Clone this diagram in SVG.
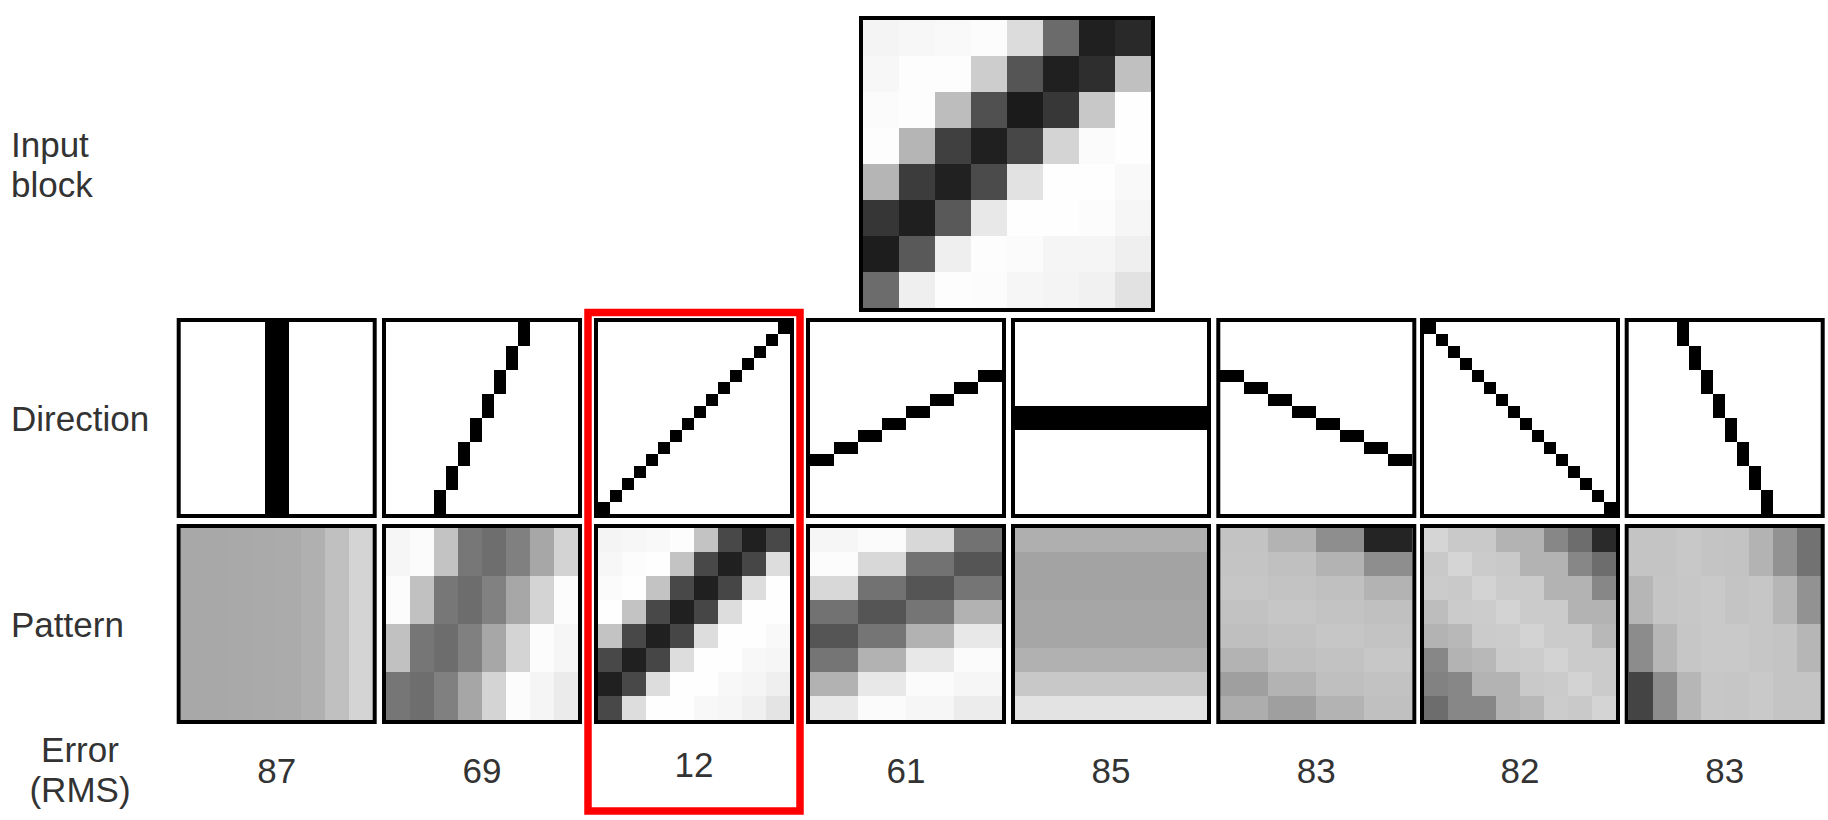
<svg xmlns="http://www.w3.org/2000/svg" width="1828" height="820" viewBox="0 0 1828 820">
<style>
.lbl{font-family:"Liberation Sans",Arial,sans-serif;font-size:35px;fill:#333}
.num{font-family:"Liberation Sans",Arial,sans-serif;font-size:35px;fill:#333;text-anchor:middle}
.frame{fill:none;stroke:#000;stroke-width:4}
.hl{fill:none;stroke:#f00;stroke-width:7.5}
.grid{shape-rendering:crispEdges}
.dir{fill:#000;shape-rendering:crispEdges}
</style>
<rect width="1828" height="820" fill="#fff"/>

<g id="labels">
<text class="lbl" x="11" y="157">Input</text>
<text class="lbl" x="11" y="197">block</text>
<text class="lbl" x="11" y="431">Direction</text>
<text class="lbl" x="11" y="637">Pattern</text>
<text class="num" x="80" y="762">Error</text>
<text class="num" x="80" y="802">(RMS)</text>
</g>

<g id="input-block">
<g class="grid" transform="translate(863,20)">
<rect x="0" y="0" width="36" height="36" fill="#f4f4f4"/><rect x="36" y="0" width="36" height="36" fill="#f7f7f7"/><rect x="72" y="0" width="36" height="36" fill="#f9f9f9"/><rect x="108" y="0" width="36" height="36" fill="#fcfcfc"/><rect x="144" y="0" width="36" height="36" fill="#dcdcdc"/><rect x="180" y="0" width="36" height="36" fill="#6b6b6b"/><rect x="216" y="0" width="36" height="36" fill="#202020"/><rect x="252" y="0" width="36" height="36" fill="#292929"/>
<rect x="0" y="36" width="36" height="36" fill="#f7f7f7"/><rect x="36" y="36" width="36" height="36" fill="#fdfdfd"/><rect x="72" y="36" width="36" height="36" fill="#fdfdfd"/><rect x="108" y="36" width="36" height="36" fill="#cdcdcd"/><rect x="144" y="36" width="36" height="36" fill="#555555"/><rect x="180" y="36" width="36" height="36" fill="#202020"/><rect x="216" y="36" width="36" height="36" fill="#2e2e2e"/><rect x="252" y="36" width="36" height="36" fill="#c0c0c0"/>
<rect x="0" y="72" width="36" height="36" fill="#fbfbfb"/><rect x="36" y="72" width="36" height="36" fill="#fdfdfd"/><rect x="72" y="72" width="36" height="36" fill="#bdbdbd"/><rect x="108" y="72" width="36" height="36" fill="#505050"/><rect x="144" y="72" width="36" height="36" fill="#1b1b1b"/><rect x="180" y="72" width="36" height="36" fill="#373737"/><rect x="216" y="72" width="36" height="36" fill="#c8c8c8"/><rect x="252" y="72" width="36" height="36" fill="#fefefe"/>
<rect x="0" y="108" width="36" height="36" fill="#fdfdfd"/><rect x="36" y="108" width="36" height="36" fill="#b5b5b5"/><rect x="72" y="108" width="36" height="36" fill="#404040"/><rect x="108" y="108" width="36" height="36" fill="#202020"/><rect x="144" y="108" width="36" height="36" fill="#474747"/><rect x="180" y="108" width="36" height="36" fill="#d4d4d4"/><rect x="216" y="108" width="36" height="36" fill="#fbfbfb"/><rect x="252" y="108" width="36" height="36" fill="#fefefe"/>
<rect x="0" y="144" width="36" height="36" fill="#b5b5b5"/><rect x="36" y="144" width="36" height="36" fill="#3c3c3c"/><rect x="72" y="144" width="36" height="36" fill="#212121"/><rect x="108" y="144" width="36" height="36" fill="#4b4b4b"/><rect x="144" y="144" width="36" height="36" fill="#e2e2e2"/><rect x="180" y="144" width="36" height="36" fill="#fefefe"/><rect x="216" y="144" width="36" height="36" fill="#fefefe"/><rect x="252" y="144" width="36" height="36" fill="#f9f9f9"/>
<rect x="0" y="180" width="36" height="36" fill="#363636"/><rect x="36" y="180" width="36" height="36" fill="#1f1f1f"/><rect x="72" y="180" width="36" height="36" fill="#595959"/><rect x="108" y="180" width="36" height="36" fill="#e8e8e8"/><rect x="144" y="180" width="36" height="36" fill="#fefefe"/><rect x="180" y="180" width="36" height="36" fill="#fefefe"/><rect x="216" y="180" width="36" height="36" fill="#fcfcfc"/><rect x="252" y="180" width="36" height="36" fill="#f6f6f6"/>
<rect x="0" y="216" width="36" height="36" fill="#1d1d1d"/><rect x="36" y="216" width="36" height="36" fill="#595959"/><rect x="72" y="216" width="36" height="36" fill="#efefef"/><rect x="108" y="216" width="36" height="36" fill="#fdfdfd"/><rect x="144" y="216" width="36" height="36" fill="#fbfbfb"/><rect x="180" y="216" width="36" height="36" fill="#f5f5f5"/><rect x="216" y="216" width="36" height="36" fill="#f5f5f5"/><rect x="252" y="216" width="36" height="36" fill="#efefef"/>
<rect x="0" y="252" width="36" height="36" fill="#6c6c6c"/><rect x="36" y="252" width="36" height="36" fill="#efefef"/><rect x="72" y="252" width="36" height="36" fill="#fdfdfd"/><rect x="108" y="252" width="36" height="36" fill="#fcfcfc"/><rect x="144" y="252" width="36" height="36" fill="#f6f6f6"/><rect x="180" y="252" width="36" height="36" fill="#f4f4f4"/><rect x="216" y="252" width="36" height="36" fill="#f1f1f1"/><rect x="252" y="252" width="36" height="36" fill="#e2e2e2"/>
</g>
<rect class="frame" x="861" y="18" width="292" height="292"/>
</g>

<!-- Direction row -->
<g id="direction-1" transform="translate(180.7,322)">
<rect width="192" height="192" fill="#fff"/>
<rect class="dir" x="84" y="0" width="24" height="192"/>
<rect class="frame" x="-2" y="-2" width="196" height="196"/>
</g>
<g id="direction-2" transform="translate(386,322)">
<rect width="192" height="192" fill="#fff"/>
<path class="dir" d="M132 0h12v24h-12zM120 24h12v24h-12zM108 48h12v24h-12zM96 72h12v24h-12zM84 96h12v24h-12zM72 120h12v24h-12zM60 144h12v24h-12zM48 168h12v24h-12z"/>
<rect class="frame" x="-2" y="-2" width="196" height="196"/>
</g>
<g id="direction-3" transform="translate(598,322)">
<rect width="192" height="192" fill="#fff"/>
<path class="dir" d="M180 0h12v12h-12zM168 12h12v12h-12zM156 24h12v12h-12zM144 36h12v12h-12zM132 48h12v12h-12zM120 60h12v12h-12zM108 72h12v12h-12zM96 84h12v12h-12zM84 96h12v12h-12zM72 108h12v12h-12zM60 120h12v12h-12zM48 132h12v12h-12zM36 144h12v12h-12zM24 156h12v12h-12zM12 168h12v12h-12zM0 180h12v12h-12z"/>
<rect class="frame" x="-2" y="-2" width="196" height="196"/>
</g>
<g id="direction-4" transform="translate(810,322)">
<rect width="192" height="192" fill="#fff"/>
<path class="dir" d="M0 132h24v12h-24zM24 120h24v12h-24zM48 108h24v12h-24zM72 96h24v12h-24zM96 84h24v12h-24zM120 72h24v12h-24zM144 60h24v12h-24zM168 48h24v12h-24z"/>
<rect class="frame" x="-2" y="-2" width="196" height="196"/>
</g>
<g id="direction-5" transform="translate(1015,322)">
<rect width="192" height="192" fill="#fff"/>
<rect class="dir" x="0" y="84" width="192" height="24"/>
<rect class="frame" x="-2" y="-2" width="196" height="196"/>
</g>
<g id="direction-6" transform="translate(1220.3,322)">
<rect width="192" height="192" fill="#fff"/>
<path class="dir" d="M0 48h24v12h-24zM24 60h24v12h-24zM48 72h24v12h-24zM72 84h24v12h-24zM96 96h24v12h-24zM120 108h24v12h-24zM144 120h24v12h-24zM168 132h24v12h-24z"/>
<rect class="frame" x="-2" y="-2" width="196" height="196"/>
</g>
<g id="direction-7" transform="translate(1424,322)">
<rect width="192" height="192" fill="#fff"/>
<path class="dir" d="M0 0h12v12h-12zM12 12h12v12h-12zM24 24h12v12h-12zM36 36h12v12h-12zM48 48h12v12h-12zM60 60h12v12h-12zM72 72h12v12h-12zM84 84h12v12h-12zM96 96h12v12h-12zM108 108h12v12h-12zM120 120h12v12h-12zM132 132h12v12h-12zM144 144h12v12h-12zM156 156h12v12h-12zM168 168h12v12h-12zM180 180h12v12h-12z"/>
<rect class="frame" x="-2" y="-2" width="196" height="196"/>
</g>
<g id="direction-8" transform="translate(1628.7,322)">
<rect width="192" height="192" fill="#fff"/>
<path class="dir" d="M48 0h12v24h-12zM60 24h12v24h-12zM72 48h12v24h-12zM84 72h12v24h-12zM96 96h12v24h-12zM108 120h12v24h-12zM120 144h12v24h-12zM132 168h12v24h-12z"/>
<rect class="frame" x="-2" y="-2" width="196" height="196"/>
</g>

<!-- Pattern row -->
<g id="pattern-1" transform="translate(180.7,528)">
<g class="grid">
<rect x="0" y="0" width="24" height="192" fill="#a8a8a8"/><rect x="24" y="0" width="24" height="192" fill="#a8a8a8"/><rect x="48" y="0" width="24" height="192" fill="#a9a9a9"/><rect x="72" y="0" width="24" height="192" fill="#aaaaaa"/><rect x="96" y="0" width="24" height="192" fill="#ababab"/><rect x="120" y="0" width="24" height="192" fill="#b0b0b0"/><rect x="144" y="0" width="24" height="192" fill="#c0c0c0"/><rect x="168" y="0" width="24" height="192" fill="#d4d4d4"/>
</g>
<rect class="frame" x="-2" y="-2" width="196" height="196"/>
</g>
<g id="pattern-2" transform="translate(386,528)">
<g class="grid">
<rect x="0" y="0" width="24" height="48" fill="#f6f6f6"/><rect x="24" y="0" width="24" height="48" fill="#fbfbfb"/><rect x="48" y="0" width="24" height="48" fill="#c3c3c3"/><rect x="72" y="0" width="24" height="48" fill="#777777"/><rect x="96" y="0" width="24" height="48" fill="#6e6e6e"/><rect x="120" y="0" width="24" height="48" fill="#808080"/><rect x="144" y="0" width="24" height="48" fill="#a7a7a7"/><rect x="168" y="0" width="24" height="48" fill="#d3d3d3"/>
<rect x="0" y="48" width="24" height="48" fill="#fcfcfc"/><rect x="24" y="48" width="24" height="48" fill="#c1c1c1"/><rect x="48" y="48" width="24" height="48" fill="#777777"/><rect x="72" y="48" width="24" height="48" fill="#6d6d6d"/><rect x="96" y="48" width="24" height="48" fill="#818181"/><rect x="120" y="48" width="24" height="48" fill="#a7a7a7"/><rect x="144" y="48" width="24" height="48" fill="#d4d4d4"/><rect x="168" y="48" width="24" height="48" fill="#fcfcfc"/>
<rect x="0" y="96" width="24" height="48" fill="#c1c1c1"/><rect x="24" y="96" width="24" height="48" fill="#767676"/><rect x="48" y="96" width="24" height="48" fill="#6d6d6d"/><rect x="72" y="96" width="24" height="48" fill="#808080"/><rect x="96" y="96" width="24" height="48" fill="#a7a7a7"/><rect x="120" y="96" width="24" height="48" fill="#d4d4d4"/><rect x="144" y="96" width="24" height="48" fill="#fcfcfc"/><rect x="168" y="96" width="24" height="48" fill="#f6f6f6"/>
<rect x="0" y="144" width="24" height="48" fill="#767676"/><rect x="24" y="144" width="24" height="48" fill="#6e6e6e"/><rect x="48" y="144" width="24" height="48" fill="#808080"/><rect x="72" y="144" width="24" height="48" fill="#a6a6a6"/><rect x="96" y="144" width="24" height="48" fill="#d4d4d4"/><rect x="120" y="144" width="24" height="48" fill="#fcfcfc"/><rect x="144" y="144" width="24" height="48" fill="#f5f5f5"/><rect x="168" y="144" width="24" height="48" fill="#ebebeb"/>
</g>
<rect class="frame" x="-2" y="-2" width="196" height="196"/>
</g>
<g id="pattern-3" transform="translate(598,528)">
<g class="grid">
<rect x="0" y="0" width="24" height="24" fill="#f4f4f4"/><rect x="24" y="0" width="24" height="24" fill="#f7f7f7"/><rect x="48" y="0" width="24" height="24" fill="#f9f9f9"/><rect x="72" y="0" width="24" height="24" fill="#fdfdfd"/><rect x="96" y="0" width="24" height="24" fill="#c3c3c3"/><rect x="120" y="0" width="24" height="24" fill="#484848"/><rect x="144" y="0" width="24" height="24" fill="#202020"/><rect x="168" y="0" width="24" height="24" fill="#484848"/>
<rect x="0" y="24" width="24" height="24" fill="#f7f7f7"/><rect x="24" y="24" width="24" height="24" fill="#fcfcfc"/><rect x="48" y="24" width="24" height="24" fill="#fefefe"/><rect x="72" y="24" width="24" height="24" fill="#c3c3c3"/><rect x="96" y="24" width="24" height="24" fill="#484848"/><rect x="120" y="24" width="24" height="24" fill="#202020"/><rect x="144" y="24" width="24" height="24" fill="#464646"/><rect x="168" y="24" width="24" height="24" fill="#dddddd"/>
<rect x="0" y="48" width="24" height="24" fill="#fbfbfb"/><rect x="24" y="48" width="24" height="24" fill="#fefefe"/><rect x="48" y="48" width="24" height="24" fill="#c3c3c3"/><rect x="72" y="48" width="24" height="24" fill="#484848"/><rect x="96" y="48" width="24" height="24" fill="#202020"/><rect x="120" y="48" width="24" height="24" fill="#464646"/><rect x="144" y="48" width="24" height="24" fill="#dddddd"/><rect x="168" y="48" width="24" height="24" fill="#fefefe"/>
<rect x="0" y="72" width="24" height="24" fill="#fefefe"/><rect x="24" y="72" width="24" height="24" fill="#c3c3c3"/><rect x="48" y="72" width="24" height="24" fill="#484848"/><rect x="72" y="72" width="24" height="24" fill="#202020"/><rect x="96" y="72" width="24" height="24" fill="#464646"/><rect x="120" y="72" width="24" height="24" fill="#dddddd"/><rect x="144" y="72" width="24" height="24" fill="#fefefe"/><rect x="168" y="72" width="24" height="24" fill="#fefefe"/>
<rect x="0" y="96" width="24" height="24" fill="#c3c3c3"/><rect x="24" y="96" width="24" height="24" fill="#484848"/><rect x="48" y="96" width="24" height="24" fill="#202020"/><rect x="72" y="96" width="24" height="24" fill="#464646"/><rect x="96" y="96" width="24" height="24" fill="#dddddd"/><rect x="120" y="96" width="24" height="24" fill="#fefefe"/><rect x="144" y="96" width="24" height="24" fill="#fefefe"/><rect x="168" y="96" width="24" height="24" fill="#f9f9f9"/>
<rect x="0" y="120" width="24" height="24" fill="#484848"/><rect x="24" y="120" width="24" height="24" fill="#202020"/><rect x="48" y="120" width="24" height="24" fill="#464646"/><rect x="72" y="120" width="24" height="24" fill="#dddddd"/><rect x="96" y="120" width="24" height="24" fill="#fefefe"/><rect x="120" y="120" width="24" height="24" fill="#fefefe"/><rect x="144" y="120" width="24" height="24" fill="#f8f8f8"/><rect x="168" y="120" width="24" height="24" fill="#f6f6f6"/>
<rect x="0" y="144" width="24" height="24" fill="#202020"/><rect x="24" y="144" width="24" height="24" fill="#484848"/><rect x="48" y="144" width="24" height="24" fill="#dddddd"/><rect x="72" y="144" width="24" height="24" fill="#fefefe"/><rect x="96" y="144" width="24" height="24" fill="#fefefe"/><rect x="120" y="144" width="24" height="24" fill="#f8f8f8"/><rect x="144" y="144" width="24" height="24" fill="#f5f5f5"/><rect x="168" y="144" width="24" height="24" fill="#efefef"/>
<rect x="0" y="168" width="24" height="24" fill="#484848"/><rect x="24" y="168" width="24" height="24" fill="#dddddd"/><rect x="48" y="168" width="24" height="24" fill="#fefefe"/><rect x="72" y="168" width="24" height="24" fill="#fefefe"/><rect x="96" y="168" width="24" height="24" fill="#f8f8f8"/><rect x="120" y="168" width="24" height="24" fill="#f6f6f6"/><rect x="144" y="168" width="24" height="24" fill="#f0f0f0"/><rect x="168" y="168" width="24" height="24" fill="#e4e4e4"/>
</g>
<rect class="frame" x="-2" y="-2" width="196" height="196"/>
</g>
<g id="pattern-4" transform="translate(810,528)">
<g class="grid">
<rect x="0" y="0" width="48" height="24" fill="#f6f6f6"/><rect x="48" y="0" width="48" height="24" fill="#fbfbfb"/><rect x="96" y="0" width="48" height="24" fill="#d8d8d8"/><rect x="144" y="0" width="48" height="24" fill="#727272"/>
<rect x="0" y="24" width="48" height="24" fill="#fcfcfc"/><rect x="48" y="24" width="48" height="24" fill="#d8d8d8"/><rect x="96" y="24" width="48" height="24" fill="#727272"/><rect x="144" y="24" width="48" height="24" fill="#555555"/>
<rect x="0" y="48" width="48" height="24" fill="#d8d8d8"/><rect x="48" y="48" width="48" height="24" fill="#727272"/><rect x="96" y="48" width="48" height="24" fill="#555555"/><rect x="144" y="48" width="48" height="24" fill="#757575"/>
<rect x="0" y="72" width="48" height="24" fill="#727272"/><rect x="48" y="72" width="48" height="24" fill="#555555"/><rect x="96" y="72" width="48" height="24" fill="#757575"/><rect x="144" y="72" width="48" height="24" fill="#b2b2b2"/>
<rect x="0" y="96" width="48" height="24" fill="#555555"/><rect x="48" y="96" width="48" height="24" fill="#757575"/><rect x="96" y="96" width="48" height="24" fill="#b2b2b2"/><rect x="144" y="96" width="48" height="24" fill="#e8e8e8"/>
<rect x="0" y="120" width="48" height="24" fill="#757575"/><rect x="48" y="120" width="48" height="24" fill="#b2b2b2"/><rect x="96" y="120" width="48" height="24" fill="#e8e8e8"/><rect x="144" y="120" width="48" height="24" fill="#fbfbfb"/>
<rect x="0" y="144" width="48" height="24" fill="#b2b2b2"/><rect x="48" y="144" width="48" height="24" fill="#e8e8e8"/><rect x="96" y="144" width="48" height="24" fill="#fbfbfb"/><rect x="144" y="144" width="48" height="24" fill="#f6f6f6"/>
<rect x="0" y="168" width="48" height="24" fill="#e8e8e8"/><rect x="48" y="168" width="48" height="24" fill="#fbfbfb"/><rect x="96" y="168" width="48" height="24" fill="#f6f6f6"/><rect x="144" y="168" width="48" height="24" fill="#ececec"/>
</g>
<rect class="frame" x="-2" y="-2" width="196" height="196"/>
</g>
<g id="pattern-5" transform="translate(1015,528)">
<g class="grid">
<rect x="0" y="0" width="192" height="24" fill="#afafaf"/><rect x="0" y="24" width="192" height="24" fill="#a3a3a3"/><rect x="0" y="48" width="192" height="24" fill="#a3a3a3"/><rect x="0" y="72" width="192" height="24" fill="#a6a6a6"/><rect x="0" y="96" width="192" height="24" fill="#a6a6a6"/><rect x="0" y="120" width="192" height="24" fill="#b1b1b1"/><rect x="0" y="144" width="192" height="24" fill="#c8c8c8"/><rect x="0" y="168" width="192" height="24" fill="#e3e3e3"/>
</g>
<rect class="frame" x="-2" y="-2" width="196" height="196"/>
</g>
<g id="pattern-6" transform="translate(1220.3,528)">
<g class="grid">
<rect x="0" y="0" width="48" height="24" fill="#c3c3c3"/><rect x="48" y="0" width="48" height="24" fill="#b3b3b3"/><rect x="96" y="0" width="48" height="24" fill="#8e8e8e"/><rect x="144" y="0" width="48" height="24" fill="#242424"/>
<rect x="0" y="24" width="48" height="24" fill="#c4c4c4"/><rect x="48" y="24" width="48" height="24" fill="#c0c0c0"/><rect x="96" y="24" width="48" height="24" fill="#b3b3b3"/><rect x="144" y="24" width="48" height="24" fill="#8e8e8e"/>
<rect x="0" y="48" width="48" height="24" fill="#c6c6c6"/><rect x="48" y="48" width="48" height="24" fill="#c3c3c3"/><rect x="96" y="48" width="48" height="24" fill="#c0c0c0"/><rect x="144" y="48" width="48" height="24" fill="#b3b3b3"/>
<rect x="0" y="72" width="48" height="24" fill="#c2c2c2"/><rect x="48" y="72" width="48" height="24" fill="#c6c6c6"/><rect x="96" y="72" width="48" height="24" fill="#c3c3c3"/><rect x="144" y="72" width="48" height="24" fill="#c0c0c0"/>
<rect x="0" y="96" width="48" height="24" fill="#bfbfbf"/><rect x="48" y="96" width="48" height="24" fill="#c2c2c2"/><rect x="96" y="96" width="48" height="24" fill="#c6c6c6"/><rect x="144" y="96" width="48" height="24" fill="#c3c3c3"/>
<rect x="0" y="120" width="48" height="24" fill="#b3b3b3"/><rect x="48" y="120" width="48" height="24" fill="#bfbfbf"/><rect x="96" y="120" width="48" height="24" fill="#c2c2c2"/><rect x="144" y="120" width="48" height="24" fill="#c7c7c7"/>
<rect x="0" y="144" width="48" height="24" fill="#9f9f9f"/><rect x="48" y="144" width="48" height="24" fill="#b3b3b3"/><rect x="96" y="144" width="48" height="24" fill="#bfbfbf"/><rect x="144" y="144" width="48" height="24" fill="#c2c2c2"/>
<rect x="0" y="168" width="48" height="24" fill="#adadad"/><rect x="48" y="168" width="48" height="24" fill="#9f9f9f"/><rect x="96" y="168" width="48" height="24" fill="#b3b3b3"/><rect x="144" y="168" width="48" height="24" fill="#c0c0c0"/>
</g>
<rect class="frame" x="-2" y="-2" width="196" height="196"/>
</g>
<g id="pattern-7" transform="translate(1424,528)">
<g class="grid">
<rect x="0" y="0" width="24" height="24" fill="#d5d5d5"/><rect x="24" y="0" width="24" height="24" fill="#c9c9c9"/><rect x="48" y="0" width="24" height="24" fill="#c9c9c9"/><rect x="72" y="0" width="24" height="24" fill="#b3b3b3"/><rect x="96" y="0" width="24" height="24" fill="#b3b3b3"/><rect x="120" y="0" width="24" height="24" fill="#878787"/><rect x="144" y="0" width="24" height="24" fill="#6d6d6d"/><rect x="168" y="0" width="24" height="24" fill="#2a2a2a"/>
<rect x="0" y="24" width="24" height="24" fill="#c9c9c9"/><rect x="24" y="24" width="24" height="24" fill="#d5d5d5"/><rect x="48" y="24" width="24" height="24" fill="#cbcbcb"/><rect x="72" y="24" width="24" height="24" fill="#c9c9c9"/><rect x="96" y="24" width="24" height="24" fill="#b3b3b3"/><rect x="120" y="24" width="24" height="24" fill="#b3b3b3"/><rect x="144" y="24" width="24" height="24" fill="#878787"/><rect x="168" y="24" width="24" height="24" fill="#6d6d6d"/>
<rect x="0" y="48" width="24" height="24" fill="#cbcbcb"/><rect x="24" y="48" width="24" height="24" fill="#c9c9c9"/><rect x="48" y="48" width="24" height="24" fill="#d3d3d3"/><rect x="72" y="48" width="24" height="24" fill="#cbcbcb"/><rect x="96" y="48" width="24" height="24" fill="#cbcbcb"/><rect x="120" y="48" width="24" height="24" fill="#b3b3b3"/><rect x="144" y="48" width="24" height="24" fill="#b3b3b3"/><rect x="168" y="48" width="24" height="24" fill="#878787"/>
<rect x="0" y="72" width="24" height="24" fill="#bdbdbd"/><rect x="24" y="72" width="24" height="24" fill="#cbcbcb"/><rect x="48" y="72" width="24" height="24" fill="#cccccc"/><rect x="72" y="72" width="24" height="24" fill="#d3d3d3"/><rect x="96" y="72" width="24" height="24" fill="#cbcbcb"/><rect x="120" y="72" width="24" height="24" fill="#cbcbcb"/><rect x="144" y="72" width="24" height="24" fill="#b3b3b3"/><rect x="168" y="72" width="24" height="24" fill="#b3b3b3"/>
<rect x="0" y="96" width="24" height="24" fill="#b3b3b3"/><rect x="24" y="96" width="24" height="24" fill="#b8b8b8"/><rect x="48" y="96" width="24" height="24" fill="#cbcbcb"/><rect x="72" y="96" width="24" height="24" fill="#cccccc"/><rect x="96" y="96" width="24" height="24" fill="#d3d3d3"/><rect x="120" y="96" width="24" height="24" fill="#cbcbcb"/><rect x="144" y="96" width="24" height="24" fill="#cbcbcb"/><rect x="168" y="96" width="24" height="24" fill="#b8b8b8"/>
<rect x="0" y="120" width="24" height="24" fill="#878787"/><rect x="24" y="120" width="24" height="24" fill="#b3b3b3"/><rect x="48" y="120" width="24" height="24" fill="#b8b8b8"/><rect x="72" y="120" width="24" height="24" fill="#cbcbcb"/><rect x="96" y="120" width="24" height="24" fill="#cccccc"/><rect x="120" y="120" width="24" height="24" fill="#d3d3d3"/><rect x="144" y="120" width="24" height="24" fill="#cbcbcb"/><rect x="168" y="120" width="24" height="24" fill="#cbcbcb"/>
<rect x="0" y="144" width="24" height="24" fill="#828282"/><rect x="24" y="144" width="24" height="24" fill="#878787"/><rect x="48" y="144" width="24" height="24" fill="#b3b3b3"/><rect x="72" y="144" width="24" height="24" fill="#b3b3b3"/><rect x="96" y="144" width="24" height="24" fill="#c9c9c9"/><rect x="120" y="144" width="24" height="24" fill="#cbcbcb"/><rect x="144" y="144" width="24" height="24" fill="#d3d3d3"/><rect x="168" y="144" width="24" height="24" fill="#cbcbcb"/>
<rect x="0" y="168" width="24" height="24" fill="#6d6d6d"/><rect x="24" y="168" width="24" height="24" fill="#878787"/><rect x="48" y="168" width="24" height="24" fill="#878787"/><rect x="72" y="168" width="24" height="24" fill="#b3b3b3"/><rect x="96" y="168" width="24" height="24" fill="#b8b8b8"/><rect x="120" y="168" width="24" height="24" fill="#cccccc"/><rect x="144" y="168" width="24" height="24" fill="#c9c9c9"/><rect x="168" y="168" width="24" height="24" fill="#d4d4d4"/>
</g>
<rect class="frame" x="-2" y="-2" width="196" height="196"/>
</g>
<g id="pattern-8" transform="translate(1628.7,528)">
<g class="grid">
<rect x="0" y="0" width="24" height="48" fill="#c4c4c4"/><rect x="24" y="0" width="24" height="48" fill="#c4c4c4"/><rect x="48" y="0" width="24" height="48" fill="#c8c8c8"/><rect x="72" y="0" width="24" height="48" fill="#c4c4c4"/><rect x="96" y="0" width="24" height="48" fill="#c3c3c3"/><rect x="120" y="0" width="24" height="48" fill="#b3b3b3"/><rect x="144" y="0" width="24" height="48" fill="#929292"/><rect x="168" y="0" width="24" height="48" fill="#727272"/>
<rect x="0" y="48" width="24" height="48" fill="#b6b6b6"/><rect x="24" y="48" width="24" height="48" fill="#c5c5c5"/><rect x="48" y="48" width="24" height="48" fill="#c7c7c7"/><rect x="72" y="48" width="24" height="48" fill="#c9c9c9"/><rect x="96" y="48" width="24" height="48" fill="#c4c4c4"/><rect x="120" y="48" width="24" height="48" fill="#c6c6c6"/><rect x="144" y="48" width="24" height="48" fill="#b6b6b6"/><rect x="168" y="48" width="24" height="48" fill="#929292"/>
<rect x="0" y="96" width="24" height="48" fill="#8c8c8c"/><rect x="24" y="96" width="24" height="48" fill="#b6b6b6"/><rect x="48" y="96" width="24" height="48" fill="#c6c6c6"/><rect x="72" y="96" width="24" height="48" fill="#c9c9c9"/><rect x="96" y="96" width="24" height="48" fill="#c9c9c9"/><rect x="120" y="96" width="24" height="48" fill="#c6c6c6"/><rect x="144" y="96" width="24" height="48" fill="#c4c4c4"/><rect x="168" y="96" width="24" height="48" fill="#b6b6b6"/>
<rect x="0" y="144" width="24" height="48" fill="#444444"/><rect x="24" y="144" width="24" height="48" fill="#8c8c8c"/><rect x="48" y="144" width="24" height="48" fill="#b6b6b6"/><rect x="72" y="144" width="24" height="48" fill="#c7c7c7"/><rect x="96" y="144" width="24" height="48" fill="#c6c6c6"/><rect x="120" y="144" width="24" height="48" fill="#c9c9c9"/><rect x="144" y="144" width="24" height="48" fill="#c4c4c4"/><rect x="168" y="144" width="24" height="48" fill="#c4c4c4"/>
</g>
<rect class="frame" x="-2" y="-2" width="196" height="196"/>
</g>

<g id="errors">
<text class="num" x="276.7" y="783">87</text>
<text class="num" x="482" y="783">69</text>
<text class="num" x="694" y="777">12</text>
<text class="num" x="906" y="783">61</text>
<text class="num" x="1111" y="783">85</text>
<text class="num" x="1316.3" y="783">83</text>
<text class="num" x="1520" y="783">82</text>
<text class="num" x="1724.7" y="783">83</text>
</g>

<g id="highlight">
<rect class="hl" x="588" y="312.5" width="212" height="498.5"/>
</g>
</svg>
